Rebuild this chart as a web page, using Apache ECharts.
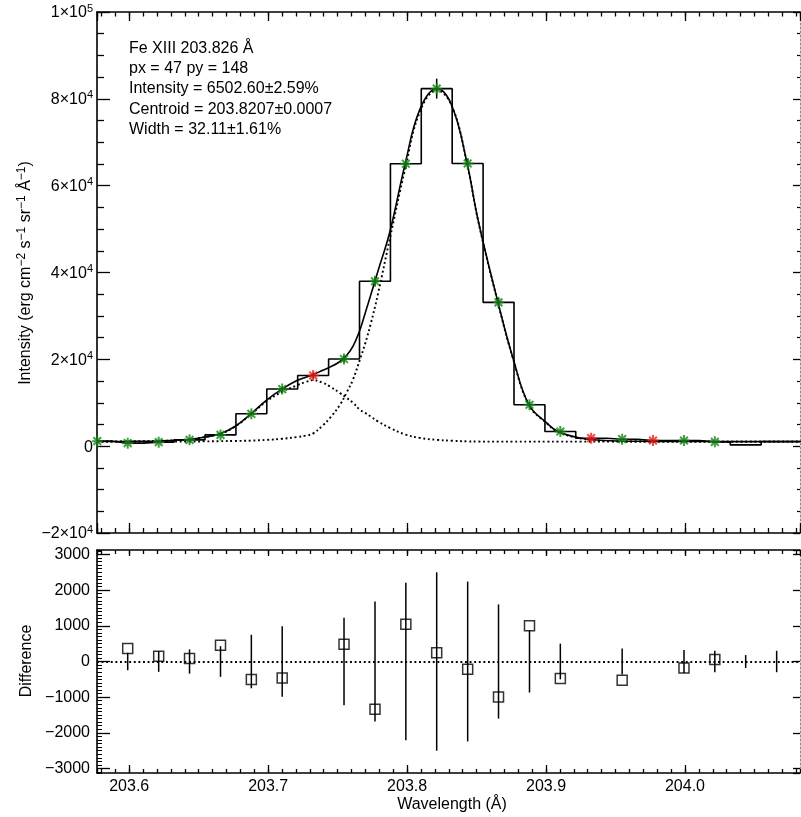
<!DOCTYPE html>
<html><head><meta charset="utf-8">
<script src="https://cdn.jsdelivr.net/npm/echarts@6/dist/echarts.min.js"></script>
<style>html,body{margin:0;padding:0;background:#fff}#c{width:801px;height:817px}</style>
</head><body><div id="c"></div>
<script>
// ---- data ----
const wavelengths = [203.5770, 203.5989, 203.6212, 203.6434, 203.6657, 203.6879, 203.7101, 203.7324, 203.7546, 203.7769, 203.7991, 203.8213, 203.8436, 203.8658, 203.8881, 203.9103, 203.9325, 203.9548, 203.9770, 203.9993, 204.0215, 204.0437, 204.0660, 204.0882];
const intensity = [1150, 690, 920, 1450, 2600, 7450, 13150, 16290, 20070, 37970, 65050, 82350, 65120, 33130, 9530, 3370, 1840, 1610, 1290, 1290, 990, 300, 1060, 1100];
const intensityErr = [150, 150, 160, 200, 250, 400, 600, 700, 800, 1000, 1100, 2300, 1100, 1000, 600, 300, 200, 200, 180, 180, 170, 150, 150, 150];
const starKind = ['g','g','g','g','g','g','g','r','g','g','g','g','g','g','g','g','r','g','r','g','g',null,null,null];
const residuals = [null, 364, 149, 84, 457, -505, -460, null, 485, -1337, 1046, 242, -216, -992, 999, -477, null, -524, null, -179, 56, null, null, null];
const residualErr = [100, 245, 290, 340, 430, 750, 990, null, 1225, 1680, 2210, 2500, 2240, 1600, 870, 500, null, 365, null, 320, 300, 180, 300, null];

const fitWavelengths = [203.5768, 203.5983, 203.6207, 203.6430, 203.6545, 203.6653, 203.6761, 203.6876, 203.6991, 203.7099, 203.7207, 203.7272, 203.7322, 203.7394, 203.7445, 203.7517, 203.7567, 203.7610, 203.7661, 203.7697, 203.7740, 203.7790, 203.7877, 203.7985, 203.8092, 203.8215, 203.8323, 203.8431, 203.8510, 203.8654, 203.8762, 203.8877, 203.9007, 203.9086, 203.9244, 203.9460, 203.9748, 204.0108, 204.0828];
const fitTotal = [1060, 1100, 1200, 1550, 2100, 2840, 4520, 7450, 10680, 13150, 15130, 15900, 16450, 17500, 18200, 19500, 21000, 22980, 26830, 30500, 35000, 40300, 49500, 64890, 77580, 82350, 78340, 65280, 52200, 33130, 20300, 9530, 5300, 3370, 1900, 1250, 1100, 1060, 1050];
const fitMain = [1050, 1050, 1050, 1060, 1100, 1150, 1200, 1280, 1450, 1700, 2100, 2450, 2900, 4800, 6500, 9500, 12500, 15300, 20000, 23500, 28400, 35000, 48000, 63700, 77000, 82000, 78300, 65200, 52100, 33000, 20200, 9450, 5200, 3300, 1800, 1150, 1060, 1050, 1050];
const fitBlend = [1060, 1100, 1200, 1550, 2100, 2830, 4480, 7350, 10400, 12500, 14000, 14800, 15200, 14600, 13750, 12220, 11070, 10000, 8370, 7700, 6800, 5700, 4200, 2700, 1900, 1450, 1250, 1100, 1060, 1050, 1050, 1050, 1050, 1050, 1050, 1050, 1050, 1050, 1050];

const wavelengthTickValues = [203.6, 203.7, 203.8, 203.9, 204.0];
const wavelengthTickLabels = ['203.6', '203.7', '203.8', '203.9', '204.0'];
const intensityTickValues = [-20000, 0, 20000, 40000, 60000, 80000, 100000];
const intensityTickLabels = ['−2×10^4', '0', '2×10^4', '4×10^4', '6×10^4', '8×10^4', '1×10^5'];
const differenceTickValues = [-3000, -2000, -1000, 0, 1000, 2000, 3000];
const differenceTickLabels = ['−3000', '−2000', '−1000', '0', '1000', '2000', '3000'];
const annotationLines = ['Fe XIII 203.826 Å', 'px = 47 py = 148', 'Intensity = 6502.60±2.59%', 'Centroid = 203.8207±0.0007', 'Width = 32.11±1.61%'];

// ---- chart ----
const FONT = '"Liberation Sans", Arial, Helvetica, sans-serif';
const X_MIN = 203.5768, X_MAX = 204.0828;
const Y1_MIN = -20000, Y1_MAX = 100000;
const Y2_MIN = -3125, Y2_MAX = 3125;
const GREEN = '#168516', RED = '#ea1f1a';

function lookup(values, labels) {
  return function (v) {
    for (let i = 0; i < values.length; i++) if (Math.abs(v - values[i]) < 1e-6 * Math.max(1, Math.abs(values[i]))) return labels[i];
    return '';
  };
}
const lblStyle = {color: '#000', fontSize: 16, fontFamily: FONT};

function xAx(grid, pos, split, len, line, labels) {
  return {
    type: 'value', gridIndex: grid, position: pos, min: X_MIN, max: X_MAX, splitNumber: split,
    axisLine: line ? {show: true, onZero: false, lineStyle: {color: '#000', width: 1.6}} : {show: false, onZero: false},
    axisTick: {show: true, inside: true, length: len, lineStyle: {color: '#000', width: 1.3}},
    axisLabel: labels ? Object.assign({show: true, margin: 6, formatter: lookup(wavelengthTickValues, wavelengthTickLabels), showMinLabel: false, showMaxLabel: false}, lblStyle) : {show: false},
    splitLine: {show: false}, minorTick: {show: false}
  };
}

const xAxes = [
  xAx(0, 'bottom', 5, 10, true, false),
  xAx(0, 'top', 5, 9, true, false),
  xAx(0, 'bottom', 50, 5, false, false),
  xAx(0, 'top', 50, 4.5, false, false),
  xAx(1, 'bottom', 5, 8, true, true),
  xAx(1, 'top', 5, 6, true, false),
  xAx(1, 'bottom', 50, 4, false, false),
  xAx(1, 'top', 50, 4, false, false)
];

const rightLine = {show: true, onZero: false, lineStyle: {color: '#888', width: 1, type: [2, 2]}};
const yAxes = [
  {type: 'value', gridIndex: 0, position: 'left', min: Y1_MIN, max: Y1_MAX, interval: 20000,
   axisLine: {show: true, onZero: false, lineStyle: {color: '#000', width: 1.6}},
   axisTick: {show: true, inside: true, length: 13, lineStyle: {color: '#000', width: 1.3}},
   minorTick: {show: true, splitNumber: 4, length: 7, lineStyle: {color: '#000', width: 1.3}},
   axisLabel: {show: true, margin: 4, formatter: function (v) {
       const s = lookup(intensityTickValues, intensityTickLabels)(v);
       const p = s.split('^');
       return p.length > 1 ? '{b|' + p[0] + '}{s|' + p[1] + '}' : '{b|' + p[0] + '}';
     },
     rich: {b: {fontSize: 16, fontFamily: FONT, color: '#000', verticalAlign: 'bottom', lineHeight: 18},
            s: {fontSize: 11, fontFamily: FONT, color: '#000', verticalAlign: 'top', lineHeight: 11}}},
   splitLine: {show: false}},
  {type: 'value', gridIndex: 0, position: 'right', min: Y1_MIN, max: Y1_MAX, interval: 20000,
   axisLine: rightLine,
   axisTick: {show: true, inside: true, length: 7, lineStyle: {color: '#000', width: 1.3}},
   minorTick: {show: true, splitNumber: 4, length: 3, lineStyle: {color: '#000', width: 1.2}},
   axisLabel: {show: false}, splitLine: {show: false}},
  {type: 'value', gridIndex: 1, position: 'left', min: Y2_MIN, max: Y2_MAX, splitNumber: 6,
   axisLine: {show: true, onZero: false, lineStyle: {color: '#000', width: 1.6}},
   axisTick: {show: true, inside: true, length: 13, lineStyle: {color: '#000', width: 1.3}},
   axisLabel: Object.assign({show: true, margin: 7, showMinLabel: false, showMaxLabel: false, formatter: lookup(differenceTickValues, differenceTickLabels)}, lblStyle),
   splitLine: {show: false}},
  {type: 'value', gridIndex: 1, position: 'left', min: Y2_MIN, max: Y2_MAX, splitNumber: 62,
   axisLine: {show: false, onZero: false},
   axisTick: {show: true, inside: true, length: 5, lineStyle: {color: '#000', width: 1}},
   axisLabel: {show: false}, splitLine: {show: false}},
  {type: 'value', gridIndex: 1, position: 'right', min: Y2_MIN, max: Y2_MAX, splitNumber: 6,
   axisLine: rightLine,
   axisTick: {show: true, inside: true, length: 7, lineStyle: {color: '#000', width: 1.3}},
   axisLabel: {show: false}, splitLine: {show: false}}
];

const asterisk = 'path://M5 0L5 10M0 5L10 5M1.5 1.5L8.5 8.5M1.5 8.5L8.5 1.5';
function stars(kind) {
  const out = [];
  wavelengths.forEach((w, i) => { if (starKind[i] === kind) out.push([w, intensity[i]]); });
  return out;
}
function errBarItem(params, api) {
  const x = api.value(0), c = api.value(1), e = api.value(2);
  const p1 = api.coord([x, c + e]), p2 = api.coord([x, c - e]);
  return {type: 'line', shape: {x1: p1[0], y1: p1[1], x2: p2[0], y2: p2[1]}, style: {stroke: '#000', lineWidth: 1.5}};
}
const dotted = {color: '#000', width: 1.9, type: [1.9, 2.7]};

const topErrData = [];
wavelengths.forEach((w, i) => { if (starKind[i]) topErrData.push([w, intensity[i], intensityErr[i]]); });
const botErrData = [];
wavelengths.forEach((w, i) => { if (residualErr[i] != null) botErrData.push([w, 0, residualErr[i]]); });
const resData = [];
wavelengths.forEach((w, i) => { if (residuals[i] != null) resData.push([w, residuals[i]]); });

const option = {
  animation: false,
  textStyle: {fontFamily: FONT},
  grid: [
    {left: 97, right: 1, top: 12, height: 521},
    {left: 97, right: 1, top: 550, height: 223}
  ],
  xAxis: xAxes,
  yAxis: yAxes,
  series: [
    {type: 'line', xAxisIndex: 0, yAxisIndex: 0, step: 'middle', showSymbol: false, symbol: 'none',
     data: wavelengths.map((w, i) => [w, intensity[i]]), lineStyle: {color: '#000', width: 1.6}, z: 2},
    {type: 'line', xAxisIndex: 0, yAxisIndex: 0, smooth: 0.4, showSymbol: false, symbol: 'none',
     data: fitWavelengths.map((w, i) => [w, fitBlend[i]]), lineStyle: dotted, z: 3},
    {type: 'line', xAxisIndex: 0, yAxisIndex: 0, smooth: 0.4, showSymbol: false, symbol: 'none',
     data: fitWavelengths.map((w, i) => [w, fitMain[i]]), lineStyle: dotted, z: 3},
    {type: 'line', xAxisIndex: 0, yAxisIndex: 0, smooth: 0.4, showSymbol: false, symbol: 'none',
     data: fitWavelengths.map((w, i) => [w, fitTotal[i]]), lineStyle: {color: '#000', width: 1.6}, z: 4},
    {type: 'custom', xAxisIndex: 0, yAxisIndex: 0, renderItem: errBarItem, data: topErrData, clip: true, z: 5},
    {type: 'scatter', xAxisIndex: 0, yAxisIndex: 0, symbol: asterisk, symbolSize: 11, data: stars('g'),
     itemStyle: {color: 'rgba(0,0,0,0)', borderColor: GREEN, borderWidth: 2}, z: 6},
    {type: 'scatter', xAxisIndex: 0, yAxisIndex: 0, symbol: asterisk, symbolSize: 11, data: stars('r'),
     itemStyle: {color: 'rgba(0,0,0,0)', borderColor: RED, borderWidth: 2}, z: 6},
    {type: 'custom', xAxisIndex: 4, yAxisIndex: 2, renderItem: errBarItem, data: botErrData, clip: true, z: 3},
    {type: 'scatter', xAxisIndex: 4, yAxisIndex: 2, symbol: 'rect', symbolSize: 10, data: resData,
     itemStyle: {color: 'rgba(0,0,0,0)', borderColor: '#000', borderWidth: 1.5}, z: 4,
     markLine: {silent: true, symbol: ['none', 'none'], label: {show: false}, lineStyle: dotted, data: [{yAxis: 0}]}}
  ],
  graphic: [
    {type: 'text', x: 129, y: 38, style: {text: annotationLines.join('\n'), fontSize: 16, fontFamily: FONT, lineHeight: 20.4, fill: '#000', verticalAlign: 'top'}},
    {type: 'text', x: 25, y: 273, rotation: Math.PI / 2,
     style: {text: '{n|Intensity (erg cm}{s|−2}{n| s}{s|−1}{n| sr}{s|−1}{n| Å}{s|−1}{n|)}', align: 'center', verticalAlign: 'middle', fill: '#000',
       rich: {n: {fontSize: 16, fontFamily: FONT, verticalAlign: 'bottom', lineHeight: 18}, s: {fontSize: 12, fontFamily: FONT, verticalAlign: 'top', lineHeight: 12}}}},
    {type: 'text', x: 27, y: 661, rotation: Math.PI / 2,
     style: {text: 'Difference', fontSize: 16, fontFamily: FONT, fill: '#000', align: 'center', verticalAlign: 'middle'}},
    {type: 'text', x: 452, y: 805,
     style: {text: 'Wavelength (Å)', fontSize: 16, fontFamily: FONT, fill: '#000', align: 'center', verticalAlign: 'middle'}}
  ]
};
const chart = echarts.init(document.getElementById('c'), null, {renderer: 'canvas'});
chart.setOption(option);
</script>
</body></html>
